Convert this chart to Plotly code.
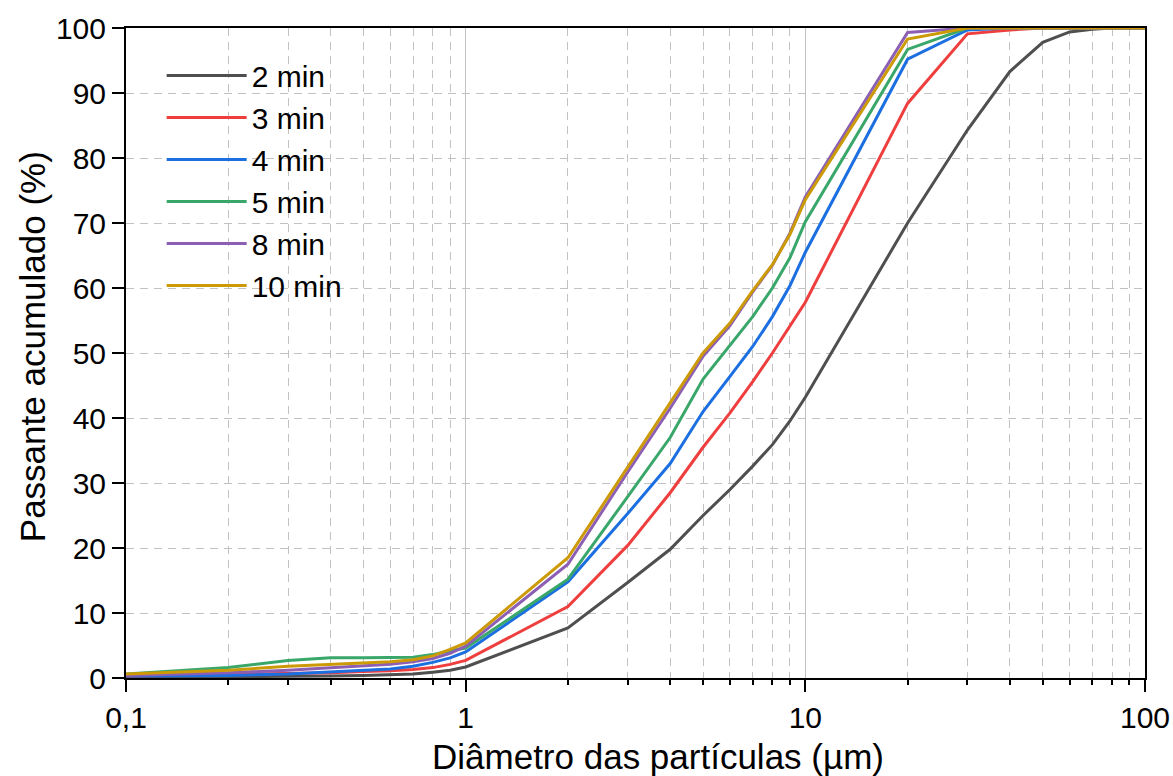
import plotly.graph_objects as go

diametro = [0.1, 0.2, 0.3, 0.4, 0.5, 0.6, 0.7, 0.8, 0.9, 1, 2, 3, 4, 5, 6, 7, 8, 9, 10,
            20, 30, 40, 50, 60, 70, 80, 90, 100]

p_2min = [0.1, 0.15, 0.2, 0.3, 0.4, 0.5, 0.6, 0.9, 1.2, 1.7, 7.7, 14.7, 19.8, 25.0, 29.0, 32.6, 35.9, 39.5, 43.2,
          70.0, 84.3, 93.3, 97.8, 99.4, 99.8, 100, 100, 100]
p_3min = [0.3, 0.5, 0.7, 0.8, 1.0, 1.1, 1.3, 1.6, 2.1, 2.7, 11.0, 20.4, 28.5, 35.5, 40.8, 45.6, 50.0, 54.2, 57.8,
          88.4, 99.1, 99.7, 100, 100, 100, 100, 100, 100]
p_4min = [0.3, 0.4, 0.6, 0.9, 1.1, 1.4, 1.8, 2.4, 3.1, 4.0, 14.8, 25.3, 33.0, 41.0, 46.4, 51.0, 55.6, 60.3, 65.5,
          95.2, 99.7, 100, 100, 100, 100, 100, 100, 100]
p_5min = [0.6, 1.6, 2.7, 3.1, 3.1, 3.2, 3.2, 3.6, 4.2, 4.6, 15.2, 27.9, 37.0, 46.0, 51.3, 55.6, 60.0, 64.6, 70.2,
          96.7, 100, 100, 100, 100, 100, 100, 100, 100]
p_8min = [0.4, 0.8, 1.2, 1.6, 1.8, 2.1, 2.5, 3.0, 3.8, 4.9, 17.5, 31.7, 41.5, 49.5, 54.2, 59.4, 63.5, 68.4, 74.0,
          99.3, 100, 100, 100, 100, 100, 100, 100, 100]
p_10min = [0.6, 1.2, 1.8, 2.1, 2.3, 2.5, 2.8, 3.4, 4.4, 5.4, 18.5, 32.4, 42.2, 50.0, 54.6, 59.6, 63.6, 68.2, 73.6,
           98.3, 100, 100, 100, 100, 100, 100, 100, 100]

series_names = ["2 min", "3 min", "4 min", "5 min", "8 min", "10 min"]
series_values = [p_2min, p_3min, p_4min, p_5min, p_8min, p_10min]
colors = ["#4f4f4f", "#ef3e3e", "#1c6fe0", "#3aa76a", "#8c5fb4", "#cc9a06"]

x_tickvals = [0.1, 1, 10, 100]
x_ticktext = ["0,1", "1", "10", "100"]
minor_vals = [0.2, 0.3, 0.4, 0.5, 0.6, 0.7, 0.8, 0.9,
              2, 3, 4, 5, 6, 7, 8, 9,
              20, 30, 40, 50, 60, 70, 80, 90]

FONT = "Arial, Liberation Sans, sans-serif"

fig = go.Figure()
for name, vals, col in zip(series_names, series_values, colors):
    fig.add_trace(go.Scatter(x=diametro, y=vals, mode="lines", name=name,
                             legendgroup=name,
                             line=dict(color=col, width=3)))

fig.update_layout(
    width=1173, height=776, autosize=False,
    margin=dict(l=126, r=28, t=28, b=98),
    paper_bgcolor="white", plot_bgcolor="white",
    font=dict(family=FONT, color="black", size=30),
    showlegend=True,
    legend=dict(x=0.035, y=0.967, xanchor="left", yanchor="top",
                bgcolor="rgba(0,0,0,0)", font=dict(size=30, family=FONT),
                itemwidth=80, tracegroupgap=0, traceorder="grouped"),
    annotations=[
        dict(text="Composição granulométrica por tempo de moagem",
             xref="paper", yref="paper", x=0.45, y=1.042,
             xanchor="center", yanchor="bottom", showarrow=False,
             font=dict(size=30, family=FONT)),
        dict(text="Diâmetro das partículas (µm)",
             xref="paper", yref="paper", x=0.522, y=-0.1215,
             xanchor="center", yanchor="middle", showarrow=False,
             font=dict(size=35, family=FONT)),
        dict(text="Passante acumulado (%)", textangle=-90,
             xref="paper", yref="paper", x=-0.0922, y=0.509,
             xanchor="center", yanchor="middle", showarrow=False,
             font=dict(size=35, family=FONT)),
    ],
)

fig.update_xaxes(
    type="log", range=[-1, 2], automargin=False,
    tickvals=x_tickvals, ticktext=x_ticktext,
    ticks="outside", ticklen=12, tickwidth=2, tickcolor="black",
    showline=True, linewidth=2, linecolor="black", mirror=True,
    showgrid=True, gridcolor="#c2c2c2", gridwidth=1.2,
    tickfont=dict(size=30),
    minor=dict(tickvals=minor_vals, ticks="outside", ticklen=5, tickwidth=2,
               tickcolor="black", showgrid=True, gridcolor="#c2c2c2",
               gridwidth=1.2, griddash="8px,6px"),
    zeroline=False,
)
fig.update_yaxes(
    range=[0, 100], tick0=0, dtick=10, automargin=False,
    ticks="outside", ticklen=12, tickwidth=2, tickcolor="black",
    showline=True, linewidth=2, linecolor="black", mirror=True,
    showgrid=True, gridcolor="#c2c2c2", gridwidth=1.2, griddash="8px,6px",
    tickfont=dict(size=30),
    zeroline=False,
)

fig.write_html("out.html")
